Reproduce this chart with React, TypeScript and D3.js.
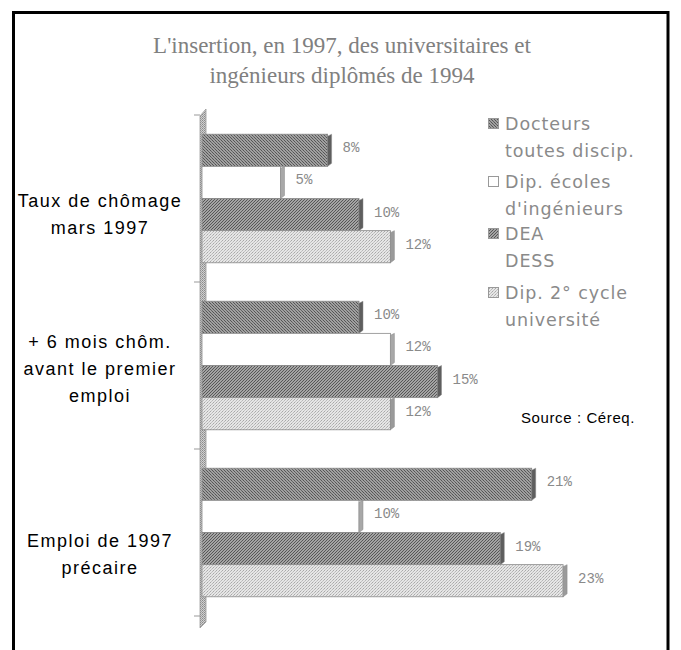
import React from "react";
import * as d3 from "d3";

const categories = [
  ["Taux de chômage", "mars 1997"],
  ["+ 6 mois chôm.", "avant le premier", "emploi"],
  ["Emploi de 1997", "précaire"],
];
const seriesNames = ["Docteurs", "Ingénieurs", "DEA-DESS", "2e cycle"];
const legendLabels = [
  ["Docteurs", "toutes discip."],
  ["Dip. écoles", "d'ingénieurs"],
  ["DEA", "DESS"],
  ["Dip. 2° cycle", "université"],
];
const docteurs = [8, 10, 21];
const ingenieurs = [5, 12, 10];
const deaDess = [10, 15, 19];
const deuxiemeCycle = [12, 12, 23];
const seriesValues = [docteurs, ingenieurs, deaDess, deuxiemeCycle];
const titleLines = [
  "L'insertion, en 1997, des universitaires et",
  "ingénieurs diplômés de 1994",
];
const sourceText = "Source : Céreq.";

const W = 681;
const H = 650;

export default function App() {
  const x0 = 202;
  const x = d3.scaleLinear().domain([0, 1]).range([x0, x0 + 15.7]);
  const yCat = d3
    .scaleBand<number>()
    .domain(d3.range(categories.length))
    .range([115, 616])
    .paddingInner(0.23)
    .paddingOuter(0.115);
  const ySer = d3
    .scaleBand<number>()
    .domain(d3.range(seriesNames.length))
    .range([0, yCat.bandwidth()]);

  const fills = ["url(#pDark)", "#ffffff", "url(#pDark2)", "url(#pLight)"];
  const sideFill = ["#5e5e5e", "#a8a8a8", "#5e5e5e", "#9a9a9a"];
  const legendFills = ["url(#pDark)", "#ffffff", "url(#pDark2)", "url(#pLight)"];
  const labelShift = [16, 3, 22];
  const legendY = [130, 188, 240, 299];

  const boundaries = d3.range(categories.length + 1).map((i) =>
    i < categories.length ? (yCat(i) as number) - (yCat.step() - yCat.bandwidth()) / 2 : 616
  );

  return (
    <svg
      width={W}
      height={H}
      style={{ position: "absolute", left: 0, top: 0, background: "#fff" }}
    >
      <defs>
        <pattern id="pDark" width="3" height="3" patternUnits="userSpaceOnUse">
          <rect width="3" height="3" fill="#a0a0a0" />
          <rect x="0" y="0" width="1" height="1" fill="#555" />
          <rect x="1" y="1" width="1" height="1" fill="#666" />
          <rect x="2" y="2" width="1" height="1" fill="#555" />
        </pattern>
        <pattern id="pDark2" width="3" height="3" patternUnits="userSpaceOnUse">
          <rect width="3" height="3" fill="#a4a4a4" />
          <rect x="2" y="0" width="1" height="1" fill="#555" />
          <rect x="1" y="1" width="1" height="1" fill="#5c5c5c" />
          <rect x="0" y="2" width="1" height="1" fill="#555" />
        </pattern>
        <pattern id="pLight" width="3" height="3" patternUnits="userSpaceOnUse">
          <rect width="3" height="3" fill="#e6e6e6" />
          <rect x="0" y="0" width="1" height="1" fill="#a8a8a8" />
          <rect x="2" y="1" width="1" height="1" fill="#b8b8b8" />
          <rect x="1" y="2" width="1" height="1" fill="#c4c4c4" />
        </pattern>
        <pattern id="pWall" width="2" height="2" patternUnits="userSpaceOnUse">
          <rect width="2" height="2" fill="#d0d0d0" />
          <rect x="0" y="0" width="1" height="1" fill="#8a8a8a" />
          <rect x="1" y="1" width="1" height="1" fill="#a0a0a0" />
        </pattern>
      </defs>

      {/* frame */}
      <rect x={13.5} y={12.5} width={654.5} height={660} fill="none" stroke="#000" strokeWidth={3} />

      {/* title */}
      {titleLines.map((t, i) => (
        <text
          key={i}
          x={342}
          y={53 + i * 30}
          textAnchor="middle"
          fontFamily="'Liberation Serif', serif"
          fontSize={23}
          fill="#808080"
        >
          {t}
        </text>
      ))}

      {/* axis wall */}
      <polygon
        points={`200,116 206,109 206,622 200,628`}
        fill="url(#pWall)"
        stroke="#999"
        strokeWidth={0.8}
      />
      {boundaries.map((b, i) => (
        <line key={i} x1={194} x2={200} y1={b} y2={b} stroke="#999" strokeWidth={1} />
      ))}

      {/* bars */}
      {categories.map((_, ci) =>
        seriesValues.map((vals, si) => {
          const v = vals[ci];
          const yTop = (yCat(ci) as number) + (ySer(si) as number);
          const h = ySer.bandwidth();
          const xe = x(v);
          return (
            <g key={`${ci}-${si}`}>
              <rect
                x={x0}
                y={yTop}
                width={xe - x0}
                height={h}
                fill={fills[si]}
                stroke="#8a8a8a"
                strokeWidth={0.8}
              />
              <polygon
                points={`${xe},${yTop + 2} ${xe + 4},${yTop} ${xe + 4},${yTop + h - 3} ${xe},${yTop + h}`}
                fill={sideFill[si]}
                stroke="#888"
                strokeWidth={0.5}
              />
              <text
                x={xe + 15}
                y={yTop + h / 2 + 2}
                fontFamily="'Liberation Mono', monospace"
                fontSize={14}
                fill="#8a8a8a"
              >
                {v}%
              </text>
            </g>
          );
        })
      )}

      {/* category labels */}
      {categories.map((lines, ci) => {
        const cy = (yCat(ci) as number) + yCat.bandwidth() / 2 + labelShift[ci];
        const lh = 27;
        const start = cy - ((lines.length - 1) * lh) / 2 + 6;
        return lines.map((l, li) => (
          <text
            key={`${ci}-${li}`}
            x={100}
            y={start + li * lh}
            textAnchor="middle"
            fontFamily="'Liberation Sans', Arial, sans-serif"
            fontSize={18}
            letterSpacing={1.5}
            fill="#000"
          >
            {l}
          </text>
        ));
      })}

      {/* legend */}
      {legendLabels.map((lines, i) => {
        const y = legendY[i];
        return (
          <g key={i}>
            <rect
              x={488.5}
              y={y - 11.5}
              width={10}
              height={10}
              fill={legendFills[i]}
              stroke="#999"
              strokeWidth={1}
            />
            {lines.map((l, li) => (
              <text
                key={li}
                x={505}
                y={y + li * 27}
                fontFamily="'DejaVu Sans', sans-serif"
                fontSize={17.5}
                letterSpacing={0.9}
                fill="#8a8a8a"
              >
                {l}
              </text>
            ))}
          </g>
        );
      })}

      <text
        x={521}
        y={423}
        fontFamily="'Liberation Sans', Arial, sans-serif"
        fontSize={15}
        letterSpacing={0.6}
        fill="#000"
      >
        {sourceText}
      </text>
    </svg>
  );
}
